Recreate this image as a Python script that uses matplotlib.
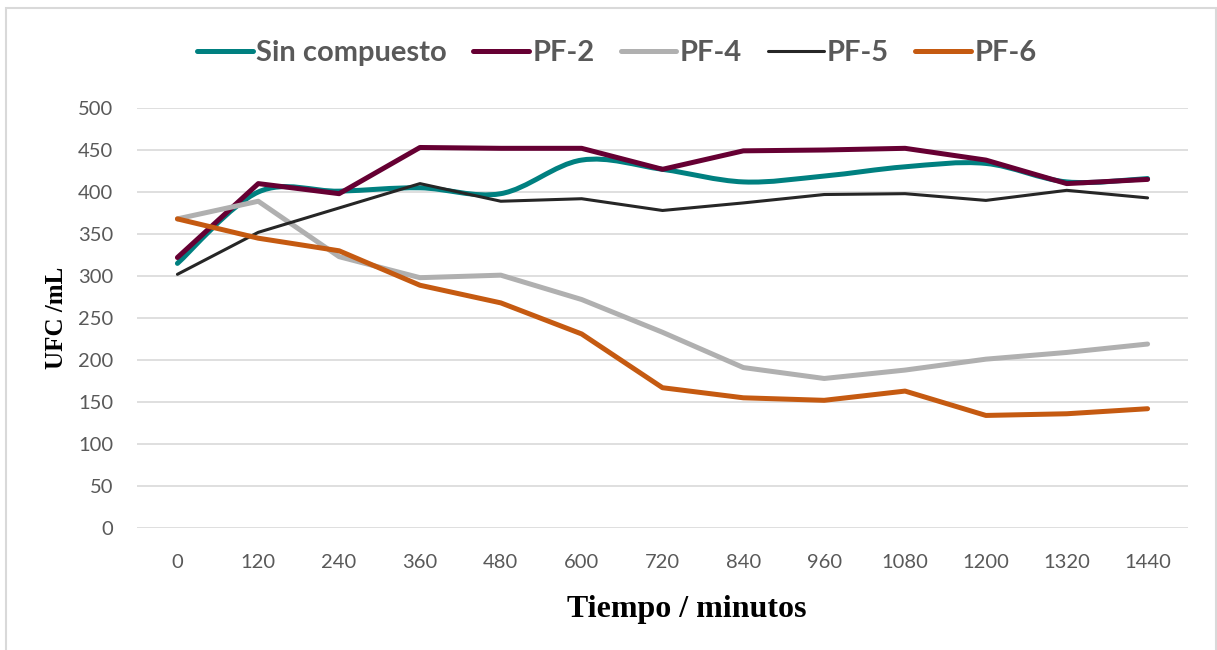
import matplotlib.pyplot as plt
import numpy as np
from matplotlib.path import Path
from matplotlib.patches import PathPatch, Rectangle
from matplotlib.lines import Line2D

tiempos = ['0', '120', '240', '360', '480', '600', '720', '840', '960', '1080', '1200', '1320', '1440']

sin_compuesto = [315, 400, 401, 405, 398, 438, 427, 412, 419, 430, 434, 412, 416]
pf2 = [322, 410, 398, 453, 452, 452, 427, 449, 450, 452, 438, 410, 415]
pf4 = [368, 389, 323, 298, 301, 272, 233, 191, 178, 188, 201, 209, 219]
pf5 = [302, 352, 381, 410, 389, 392, 378, 387, 397, 398, 390, 402, 393]
pf6 = [368, 345, 330, 289, 268, 231, 167, 155, 152, 163, 134, 136, 142]

series = [
    ('Sin compuesto', sin_compuesto, '#008080', 3.6, True),
    ('PF-2', pf2, '#660033', 3.6, False),
    ('PF-4', pf4, '#b0b0b0', 3.6, False),
    ('PF-5', pf5, '#262626', 2.2, False),
    ('PF-6', pf6, '#c55a11', 3.6, False),
]

font_txt = ['Lato', 'DejaVu Sans']
font_ser = ['Liberation Serif', 'DejaVu Serif']


def smooth_path(x, y):
    # bezier como el suavizado de Excel
    pts = np.column_stack([x, y]).astype(float)
    n = len(pts)
    verts = [pts[0]]
    codes = [Path.MOVETO]
    for i in range(n - 1):
        p0 = pts[i - 1] if i > 0 else pts[i]
        p1 = pts[i]
        p2 = pts[i + 1]
        p3 = pts[i + 2] if i + 2 < n else pts[i + 1]
        c1 = p1 + (p2 - p0) / 6
        c2 = p2 - (p3 - p1) / 6
        verts += [c1, c2, p2]
        codes += [Path.CURVE4] * 3
    return Path(verts, codes)


fig = plt.figure(figsize=(12.17, 6.5), dpi=100)
ax = fig.add_axes([137 / 1217, 1 - 528 / 650, (1188 - 137) / 1217, 420 / 650])

x = np.arange(len(tiempos))
handles = []
for nombre, vals, color, lw, suave in series:
    if suave:
        patch = PathPatch(smooth_path(x, vals), facecolor='none', edgecolor=color,
                          lw=lw, capstyle='round', joinstyle='round', zorder=3)
        ax.add_patch(patch)
    else:
        ax.plot(x, vals, color=color, lw=lw, solid_capstyle='round',
                solid_joinstyle='round', zorder=3)
    handles.append(Line2D([0], [0], color=color, lw=lw, solid_capstyle='round'))

ax.set_xlim(-0.5, len(tiempos) - 0.5)
ax.set_ylim(0, 500)
ax.set_yticks(range(0, 501, 50))
ax.set_xticks(x)
ax.set_xticklabels(tiempos)
ax.grid(axis='y', color='#d9d9d9', lw=1.2)
ax.set_axisbelow(True)
for s in ax.spines.values():
    s.set_visible(False)
ax.tick_params(length=0, labelsize=14.5, labelcolor='#595959')
ax.tick_params(axis='y', pad=17)
ax.tick_params(axis='x', pad=19)
for lab in ax.get_xticklabels() + ax.get_yticklabels():
    lab.set_family(font_txt)

ax.set_ylabel('UFC /mL', fontsize=18, fontweight='bold', family=font_ser)
ax.yaxis.set_label_coords(-(137 - 68) / 1051, 0.5)
ax.set_xlabel('Tiempo / minutos', fontsize=23, fontweight='bold', family=font_ser)
ax.xaxis.set_label_coords((687 - 137) / 1051, -(595 - 528) / 420)

leg = fig.legend(handles, [s[0] for s in series], loc='center', bbox_to_anchor=(617 / 1217, 1 - 53 / 650),
                 ncol=5, frameon=False, handlelength=1.9, handletextpad=0.12, columnspacing=0.9,
                 prop={'family': font_txt, 'weight': 'bold', 'size': 21})
for t in leg.get_texts():
    t.set_color('#595959')

fig.patches.append(Rectangle((6 / 1217, -0.05), 1210 / 1217, 1.05 - 8 / 650, transform=fig.transFigure,
                             fill=False, edgecolor='#d9d9d9', lw=1.5))

fig.savefig('out.png', dpi=100)
